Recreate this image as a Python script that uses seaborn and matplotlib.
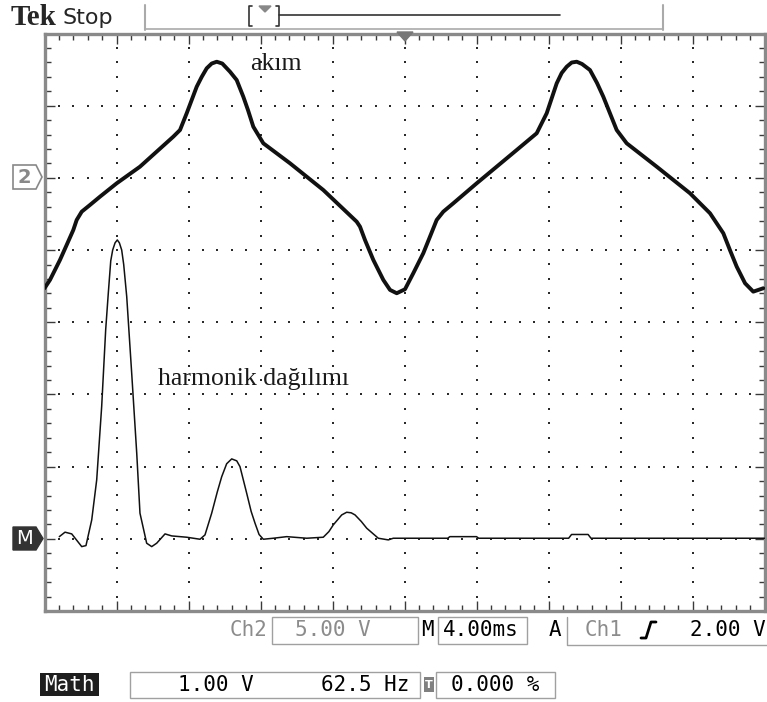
import numpy as np
import matplotlib
matplotlib.use("Agg")
import matplotlib.pyplot as plt
from matplotlib.patches import Rectangle, Polygon
from matplotlib.ticker import MultipleLocator
import seaborn as sns

# ---- data (screen divisions: x 0..10, y -4..4) ----
cur_x = [0.0, 0.076, 0.215, 0.308, 0.40, 0.447, 0.517, 0.632, 0.771, 1.003, 1.326, 1.789,
         1.882, 1.975, 2.114, 2.183, 2.253, 2.322, 2.392, 2.469, 2.576, 2.669, 2.761, 2.826,
         2.900, 3.039, 3.410, 3.872, 4.336, 4.382, 4.451, 4.567, 4.706, 4.799, 4.892, 5.007,
         5.122, 5.261, 5.354, 5.447, 5.539, 5.678, 6.003, 6.558, 6.836, 6.975, 7.114, 7.183,
         7.253, 7.322, 7.392, 7.465, 7.576, 7.674, 7.761, 7.947, 8.086, 8.503, 8.965, 9.243,
         9.428, 9.520, 9.614, 9.730, 9.844, 9.983]
cur_y = [0.471, 0.586, 0.863, 1.071, 1.278, 1.417, 1.532, 1.625, 1.740, 1.925, 2.155, 2.571,
         2.663, 2.895, 3.263, 3.398, 3.518, 3.584, 3.609, 3.584, 3.471, 3.356, 3.125, 2.940,
         2.709, 2.479, 2.202, 1.832, 1.393, 1.324, 1.140, 0.863, 0.586, 0.448, 0.402, 0.457,
         0.679, 0.956, 1.186, 1.417, 1.532, 1.648, 1.925, 2.386, 2.618, 2.895, 3.310, 3.453,
         3.540, 3.598, 3.609, 3.578, 3.494, 3.314, 3.125, 2.663, 2.479, 2.155, 1.787, 1.510,
         1.233, 1.000, 0.770, 0.540, 0.424, 0.471]

math_x = [0.206, 0.285, 0.378, 0.517, 0.576, 0.656, 0.725, 0.794, 0.850, 0.886, 0.92, 0.947,
          0.98, 1.011, 1.04, 1.072, 1.10, 1.142, 1.211, 1.281, 1.326, 1.419, 1.489, 1.558,
          1.674, 1.767, 1.975, 2.160, 2.229, 2.322, 2.40, 2.461, 2.53, 2.60, 2.67, 2.715,
          2.808, 2.87, 2.924, 2.98, 3.039, 3.178, 3.364, 3.642, 3.872, 3.95, 4.011, 4.128,
          4.197, 4.26, 4.313, 4.40, 4.475, 4.636, 4.775, 4.844, 5.60, 5.63, 6.00, 6.03,
          7.28, 7.32, 7.55, 7.59, 10.0]
math_y = [-2.97, -2.908, -2.932, -3.108, -3.094, -2.738, -2.184, -1.169, -0.10, 0.402, 0.85,
          1.001, 1.10, 1.140, 1.10, 1.001, 0.80, 0.355, -0.706, -1.814, -2.645, -3.061, -3.108,
          -3.061, -2.932, -2.96, -2.978, -3.006, -2.946, -2.645, -2.35, -2.14, -1.96, -1.893,
          -1.92, -2.0, -2.368, -2.62, -2.784, -2.94, -3.006, -2.992, -2.97, -2.992, -2.978,
          -2.90, -2.807, -2.669, -2.632, -2.64, -2.669, -2.76, -2.853, -2.992, -3.015, -2.992,
          -2.992, -2.97, -2.97, -2.992, -2.992, -2.94, -2.94, -2.992, -2.992]

ch2_label = "akım"
math_label = "harmonik dağılımı"
status_row1 = ["Ch2", "5.00 V", "M", "4.00ms", "A", "Ch1", "2.00 V"]
status_row2 = ["Math", "1.00 V", "62.5 Hz", "0.000 %"]

sns.set_theme(style="white")
plt.rcParams["font.family"] = ["DejaVu Sans"]

W, H = 767, 702
fig = plt.figure(figsize=(W / 100, H / 100), dpi=100, facecolor="white")

L, R, T, B = 44.5, 764.5, 33.5, 611.0
ax = fig.add_axes([L / W, 1 - B / H, (R - L) / W, (B - T) / H])
ax.set_xlim(0, 10)
ax.set_ylim(-4, 4)
ax.set_facecolor("white")

# graticule dots
gx, gy = [], []
for xv in range(1, 10):
    ys = np.arange(-4, 4.001, 0.2)
    gx += [xv] * len(ys)
    gy += list(ys)
for yv in range(-3, 4):
    xs = np.arange(0, 10.001, 0.2)
    gx += list(xs)
    gy += [yv] * len(xs)
ax.scatter(gx, gy, s=1.4, marker="s", color="#2a2a2a", linewidths=0, zorder=1)

# traces
sns.lineplot(x=cur_x, y=cur_y, sort=False, estimator=None, ax=ax, color="#111111",
             linewidth=2.8, zorder=3)
sns.lineplot(x=math_x, y=math_y, sort=False, estimator=None, ax=ax, color="#111111",
             linewidth=1.1, zorder=3)

ax.text(2.854, 3.494, ch2_label, family="Liberation Serif", fontsize=18.5,
        va="baseline", ha="left", color="#1a1a1a", zorder=4)
ax.text(1.576, -0.868, math_label, family="Liberation Serif", fontsize=18.5,
        va="baseline", ha="left", color="#1a1a1a", zorder=4)

ax.xaxis.set_major_locator(MultipleLocator(1))
ax.yaxis.set_major_locator(MultipleLocator(1))
ax.xaxis.set_minor_locator(MultipleLocator(0.2))
ax.yaxis.set_minor_locator(MultipleLocator(0.2))
ax.tick_params(which="both", direction="in", top=True, right=True, bottom=True, left=True,
               labelbottom=False, labelleft=False, color="#3a3a3a", width=1)
ax.tick_params(which="major", length=7.5)
ax.tick_params(which="minor", length=4)
ax.set_xlabel("")
ax.set_ylabel("")
for s in ax.spines.values():
    s.set_color("#8a8a8a")
    s.set_linewidth(2.4)
    s.set_visible(True)

# overlay in pixel coordinates
ov = fig.add_axes([0, 0, 1, 1])
ov.set_xlim(0, W)
ov.set_ylim(H, 0)
ov.axis("off")
ov.patch.set_alpha(0)

# header
ov.text(11, 25, "Tek", family="Liberation Serif", weight="bold", fontsize=21, va="baseline")
ov.text(63, 24, "Stop", family="DejaVu Sans", fontsize=16, va="baseline")
ov.plot([145, 145], [5, 30], color="#aaaaaa", lw=1.5)
ov.plot([663, 663], [5, 30], color="#aaaaaa", lw=1.5)
ov.plot([145, 663], [29, 29], color="#aaaaaa", lw=1.2)
ov.plot([252, 249, 249, 252], [6, 6, 26, 26], color="#333333", lw=1.2)
ov.plot([276, 279, 279, 276], [6, 6, 26, 26], color="#333333", lw=1.2)
ov.add_patch(Polygon([(259, 6), (271, 6), (265, 12)], closed=True, color="#888888"))
ov.plot([279, 560], [15, 15], color="#333333", lw=1.2)
ov.add_patch(Polygon([(397, 32), (413, 32), (405, 41)], closed=True, color="#777777"))

# channel markers
ov.add_patch(Polygon([(13, 165), (36, 165), (42, 177), (36, 189), (13, 189)], closed=True,
                     facecolor="white", edgecolor="#888888", lw=1.2))
ov.text(24, 177.5, "2", color="#888888", fontsize=14, weight="bold", ha="center", va="center")
ov.add_patch(Polygon([(13, 527), (36, 527), (43, 538.5), (36, 550), (13, 550)], closed=True,
                     facecolor="#333333", edgecolor="#333333", lw=1))
ov.text(24.5, 539, "M", color="white", fontsize=14, ha="center", va="center")

mono = "DejaVu Sans Mono"
gray = "#8c8c8c"
fs = 15
y1 = 630
ov.text(230, y1, status_row1[0], family=mono, fontsize=fs, color=gray, va="center")
ov.add_patch(Rectangle((272, 617), 146, 27, fill=False, edgecolor="#a0a0a0", lw=1))
ov.text(333, y1, status_row1[1], family=mono, fontsize=fs, color=gray, va="center", ha="center")
ov.text(421, y1, status_row1[2], family=mono, fontsize=fs, color="black", va="center")
ov.add_patch(Rectangle((438, 617), 89, 27, fill=False, edgecolor="#a0a0a0", lw=1))
ov.text(443, y1, status_row1[3], family=mono, fontsize=fs, color="black", va="center")
ov.text(549, y1, status_row1[4], family=mono, fontsize=fs, color="black", va="center")
ov.plot([567, 567, 767], [617, 645, 645], color="#a0a0a0", lw=1)
ov.text(585, y1, status_row1[5], family=mono, fontsize=fs, color=gray, va="center")
ov.plot([641, 646, 651, 656], [638, 638, 622, 622], color="black", lw=2)
ov.text(766, y1, status_row1[6], family=mono, fontsize=fs, color="black", va="center", ha="right")

y2 = 685
ov.add_patch(Rectangle((40, 673), 59, 23, facecolor="#1e1e1e", edgecolor="none"))
ov.text(69.5, y2, status_row2[0], family=mono, fontsize=fs, color="white", va="center", ha="center")
ov.add_patch(Rectangle((130, 672), 290, 26, fill=False, edgecolor="#a0a0a0", lw=1))
ov.text(178, y2, status_row2[1], family=mono, fontsize=fs, color="black", va="center")
ov.text(321, y2, status_row2[2], family=mono, fontsize=fs, color="black", va="center")
ov.add_patch(Rectangle((424, 677), 10, 15, facecolor="#808080", edgecolor="none"))
ov.text(429, 685, "T", fontsize=8, color="white", weight="bold", ha="center", va="center")
ov.add_patch(Rectangle((436, 672), 119, 26, fill=False, edgecolor="#a0a0a0", lw=1))
ov.text(451, y2, status_row2[3], family=mono, fontsize=fs, color="black", va="center")

fig.savefig("out.png", dpi=100, facecolor="white")
